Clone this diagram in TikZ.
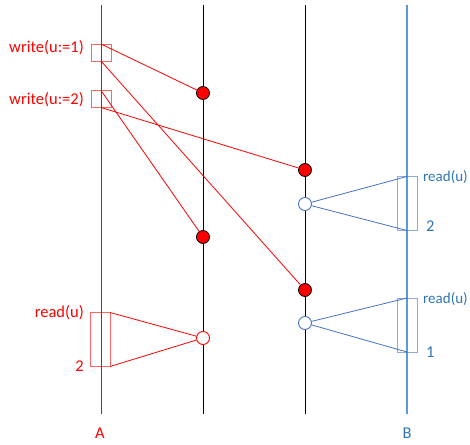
\documentclass[tikz,border=0pt]{standalone}
\usepackage{fontspec}
\setmainfont{Carlito}
\definecolor{wred}{RGB}{255,0,0}
\definecolor{rblue}{RGB}{68,114,196}
\definecolor{lblue}{RGB}{91,155,213}
\definecolor{tblue}{RGB}{46,117,182}
\begin{document}
\begin{tikzpicture}[x=1pt,y=-1pt,
  lbl/.style={font=\fontsize{16.5}{19}\selectfont, inner sep=0pt},
  slbl/.style={font=\fontsize{15}{18}\selectfont, inner sep=0pt},
  dot/.style={circle, draw=black, fill=wred, minimum size=13pt, inner sep=0pt, line width=0.8pt},
  ring/.style={circle, fill=white, minimum size=13pt, inner sep=0pt, line width=0.9pt},
  opbox/.style={line width=0.9pt, draw opacity=0.6},
  link/.style={line width=0.8pt}]
\useasboundingbox (0,0) rectangle (470,444);

% process lines
\coordinate (At) at (101,5);  \coordinate (Ab) at (101,414);
\coordinate (Pt) at (203,5);  \coordinate (Pb) at (203,414);
\coordinate (Qt) at (305,5);  \coordinate (Qb) at (305,414);
\coordinate (Bt) at (407,5);  \coordinate (Bb) at (407,414);
\draw[wred, line width=1pt] (At) -- (Ab);
\draw[black, line width=1pt] (Pt) -- (Pb);
\draw[black, line width=1pt] (Qt) -- (Qb);
\draw[lblue, line width=1.3pt] (Bt) -- (Bb);

\node[lbl, text=wred] (labA) at (100,433) {A};
\node[lbl, text=tblue] (labB) at (407,433) {B};

% write operations on A
\node[opbox, draw=wred, minimum width=20pt, minimum height=17pt, inner sep=0pt] (w1) at (101,52.5) {};
\node[opbox, draw=wred, minimum width=20pt, minimum height=17pt, inner sep=0pt] (w2) at (101,99) {};
\node[lbl, text=wred, anchor=east] (w1t) at (84,48) {write(u:=1)};
\node[lbl, text=wred, anchor=east] (w2t) at (84,100) {write(u:=2)};
\coordinate (w1top) at (101,44);
\coordinate (w1bot) at (101,61);
\coordinate (w2top) at (101,90.5);
\coordinate (w2bot) at (101,107.5);

% replica applications
\node[dot] (d1) at (203,93) {};
\node[dot] (d2) at (305,170) {};
\node[dot] (d3) at (203,237) {};
\node[dot] (d4) at (305,290) {};

\draw[wred, link] (w1top) -- (d1);
\draw[wred, link] (w1bot) -- (d4);
\draw[wred, link] (w2top) -- (d3);
\draw[wred, link] (w2bot) -- (d2);

% read on A
\node[opbox, draw=wred, minimum width=20pt, minimum height=54pt, inner sep=0pt] (ra) at (100,339.5) {};
\coordinate (ratop) at (110,312.5);
\coordinate (rabot) at (110,366.5);
\node[ring, draw=wred] (ca) at (203,338) {};
\draw[wred, link] (ratop) -- (ca) -- (rabot);
\node[lbl, text=wred, anchor=east] (rat) at (84,313) {read(u)};
\node[lbl, text=wred, anchor=east] (rav) at (84,366) {2};

% reads on B
\node[opbox, draw=rblue, minimum width=20pt, minimum height=54pt, inner sep=0pt] (rb1) at (407,203.5) {};
\coordinate (rb1top) at (407,176.5);
\coordinate (rb1bot) at (407,230.5);
\node[ring, draw=rblue] (cb1) at (305,204) {};
\draw[rblue, link] (rb1top) -- (cb1) -- (rb1bot);
\node[slbl, text=tblue, anchor=west] (rb1t) at (423,177) {read(u)};
\node[lbl, text=tblue, anchor=west] (rb1v) at (426,226) {2};

\node[opbox, draw=rblue, minimum width=20pt, minimum height=54pt, inner sep=0pt] (rb2) at (407,325) {};
\coordinate (rb2top) at (407,298);
\coordinate (rb2bot) at (407,352);
\node[ring, draw=rblue] (cb2) at (305,323) {};
\draw[rblue, link] (rb2top) -- (cb2) -- (rb2bot);
\node[slbl, text=tblue, anchor=west] (rb2t) at (423,299) {read(u)};
\node[lbl, text=tblue, anchor=west] (rb2v) at (426,352) {1};
\end{tikzpicture}
\end{document}
